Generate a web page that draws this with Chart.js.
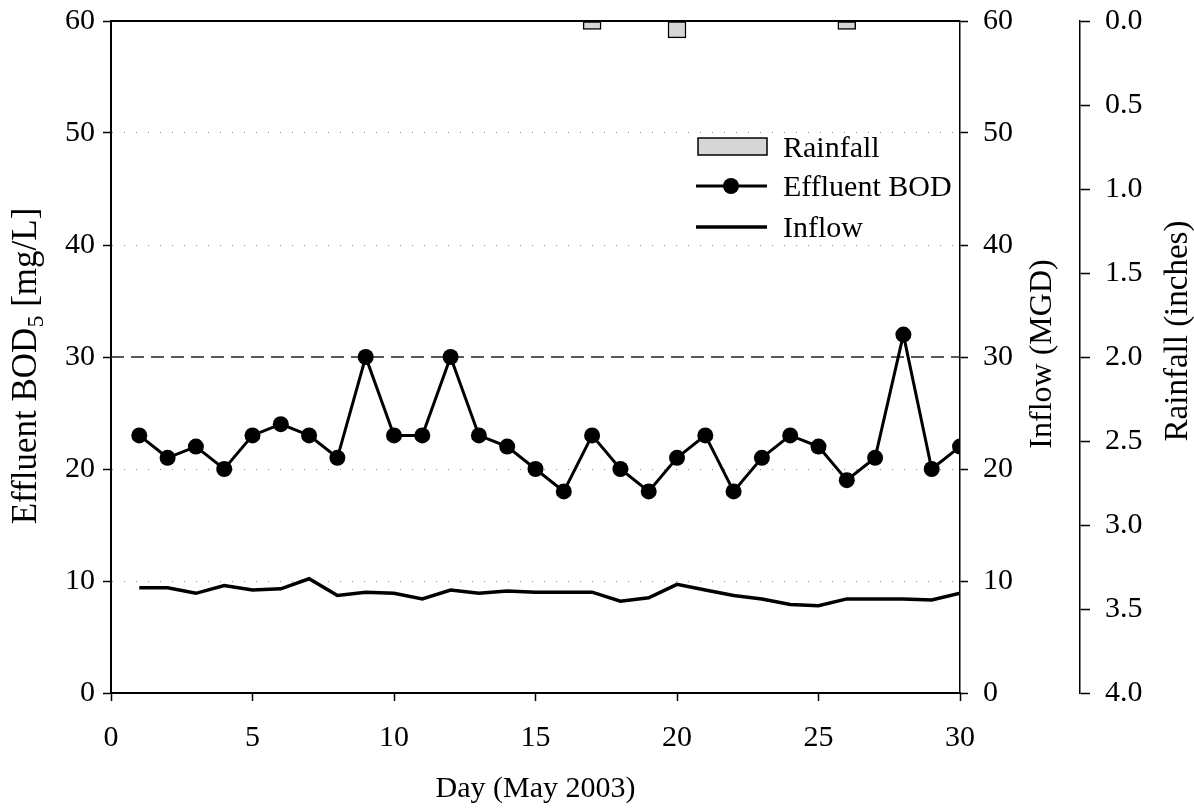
<!DOCTYPE html>
<html>
<head>
<meta charset="utf-8">
<script src="https://cdn.jsdelivr.net/npm/chart.js@4.4.1/dist/chart.umd.min.js"></script>
<style>
  html, body { margin: 0; background: #fff; }
</style>
</head>
<body>
<canvas id="chart" width="1194" height="810"></canvas>
<script>
// values
const days = [1,2,3,4,5,6,7,8,9,10,11,12,13,14,15,16,17,18,19,20,21,22,23,24,25,26,27,28,29,30];
const effluentBod = [23,21,22,20,23,24,23,21,30,23,23,30,23,22,20,18,23,20,18,21,23,18,21,23,22,19,21,32,20,22];
const inflow = [9.4,9.4,8.9,9.6,9.2,9.3,10.2,8.7,9.0,8.9,8.4,9.2,8.9,9.1,9.0,9.0,9.0,8.2,8.5,9.7,9.2,8.7,8.4,7.9,7.8,8.4,8.4,8.4,8.3,8.9];
const rainfall = [0,0,0,0,0,0,0,0,0,0,0,0,0,0,0,0,0.05,0,0,0.1,0,0,0,0,0,0.05,0,0,0,0];
const bodLimit = 30;
const dayTicks = [0,5,10,15,20,25,30];
const bodTicks = [0,10,20,30,40,50,60];
const rainTicks = [0,0.5,1,1.5,2,2.5,3,3.5,4];

const FONT = '"Liberation Serif", "Times New Roman", serif';
Chart.defaults.font.family = FONT;
Chart.defaults.font.size = 30;
Chart.defaults.color = '#000';

const pts = (ys) => days.map((d, i) => ({ x: d, y: ys[i] }));

// fixed axis sizes so the plot area lands where the original has it
const fixWidth = w => s => { s.width = w; s.paddingTop = 0; s.paddingBottom = 0; };

// axis titles, legend and top frame
const decor = {
  id: 'decor',
  afterDraw(chart) {
    const { ctx, chartArea: a } = chart;
    ctx.save();
    ctx.strokeStyle = '#000';
    ctx.lineWidth = 2;
    ctx.beginPath();
    ctx.moveTo(a.left, a.top);
    ctx.lineTo(a.right, a.top);
    ctx.stroke();

    ctx.fillStyle = '#000';
    ctx.textBaseline = 'alphabetic';
    ctx.font = '30px ' + FONT;
    ctx.textAlign = 'center';
    ctx.fillText('Day (May 2003)', (a.left + a.right) / 2, 797);

    const vtext = (parts, x, yc) => {
      ctx.save();
      ctx.translate(x, yc);
      ctx.rotate(-Math.PI / 2);
      ctx.textAlign = 'left';
      let total = 0;
      parts.forEach(p => { ctx.font = p.size + 'px ' + FONT; p.w = ctx.measureText(p.t).width; total += p.w; });
      let cx = -total / 2;
      parts.forEach(p => { ctx.font = p.size + 'px ' + FONT; ctx.fillText(p.t, cx, p.dy || 0); cx += p.w; });
      ctx.restore();
    };
    vtext([{ t: 'Effluent BOD', size: 35 }, { t: '5', size: 24, dy: 7 }, { t: ' [mg/L]', size: 35 }], 36, 366);
    vtext([{ t: 'Inflow (MGD)', size: 32 }], 1051, 354);
    vtext([{ t: 'Rainfall (inches)', size: 33 }], 1187, 331);

    // legend
    const ds = chart.data.datasets;
    ctx.textAlign = 'left';
    ctx.font = '30px ' + FONT;
    ctx.fillStyle = ds[0].backgroundColor;
    ctx.fillRect(698, 138, 69, 17);
    ctx.strokeStyle = '#000';
    ctx.lineWidth = 1.5;
    ctx.strokeRect(698, 138, 69, 17);
    ctx.fillStyle = '#000';
    ctx.fillText(ds[0].label, 783, 157);

    ctx.lineWidth = ds[1].borderWidth;
    ctx.beginPath(); ctx.moveTo(696, 186); ctx.lineTo(767, 186); ctx.stroke();
    ctx.beginPath(); ctx.arc(731, 186, ds[1].pointRadius, 0, Math.PI * 2); ctx.fill();
    ctx.fillText(ds[1].label, 783, 196);

    ctx.lineWidth = ds[2].borderWidth;
    ctx.beginPath(); ctx.moveTo(696, 227); ctx.lineTo(767, 227); ctx.stroke();
    ctx.fillText(ds[2].label, 783, 237);
    ctx.restore();
  }
};

new Chart(document.getElementById('chart'), {
  type: 'line',
  data: {
    datasets: [
      {
        type: 'bar',
        label: 'Rainfall',
        data: pts(rainfall),
        xAxisID: 'x',
        yAxisID: 'yRain',
        backgroundColor: '#d6d6d6',
        borderColor: '#000',
        borderWidth: 1.5,
        borderSkipped: false,
        barThickness: 18
      },
      {
        label: 'Effluent BOD',
        data: pts(effluentBod),
        yAxisID: 'y',
        borderColor: '#000',
        backgroundColor: '#000',
        borderWidth: 3,
        pointRadius: 8,
        pointBackgroundColor: '#000',
        pointBorderWidth: 0,
        tension: 0
      },
      {
        label: 'Inflow',
        data: pts(inflow),
        yAxisID: 'yFlow',
        borderColor: '#000',
        borderWidth: 3.5,
        pointRadius: 0,
        tension: 0
      },
      {
        label: 'limit',
        data: [{ x: dayTicks[0], y: bodLimit }, { x: dayTicks[dayTicks.length - 1], y: bodLimit }],
        yAxisID: 'y',
        borderColor: '#222',
        borderWidth: 1.5,
        borderDash: [13, 7],
        pointRadius: 0
      }
    ]
  },
  options: {
    responsive: false,
    animation: false,
    devicePixelRatio: 1,
    layout: { padding: { top: 21, left: 0, right: 0, bottom: 0 } },
    plugins: { legend: { display: false }, tooltip: { enabled: false } },
    scales: {
      x: {
        type: 'linear',
        position: 'bottom',
        min: dayTicks[0],
        max: dayTicks[dayTicks.length - 1],
        offset: false,
        afterBuildTicks: s => { s.ticks = dayTicks.map(v => ({ value: v })); },
        ticks: { padding: 19 },
        grid: { offset: false, drawOnChartArea: false, tickLength: 8, tickColor: '#000', tickWidth: 1.5 },
        border: { color: '#000', width: 2 },
        afterFit: s => { s.height = 117; s.paddingLeft = 0; s.paddingRight = 0; }
      },
      y: {
        position: 'left',
        min: bodTicks[0],
        max: bodTicks[bodTicks.length - 1],
        afterBuildTicks: s => { s.ticks = bodTicks.map(v => ({ value: v })); },
        ticks: { padding: 8 },
        grid: {
          color: c => (c.tick && [0, 30, 60].includes(c.tick.value)) ? 'rgba(0,0,0,0)' : 'rgba(0,0,0,0.45)',
          lineWidth: 1,
          tickLength: 8,
          tickColor: '#000',
          tickWidth: 1.5
        },
        border: { color: '#000', width: 2, dash: [1, 11] },
        afterFit: fixWidth(111)
      },
      yFlow: {
        position: 'right',
        weight: 0,
        min: bodTicks[0],
        max: bodTicks[bodTicks.length - 1],
        afterBuildTicks: s => { s.ticks = bodTicks.map(v => ({ value: v })); },
        ticks: { padding: 15 },
        grid: { drawOnChartArea: false, tickLength: 8, tickColor: '#000', tickWidth: 1.5 },
        border: { color: '#000', width: 1.5 },
        afterFit: fixWidth(120)
      },
      yRain: {
        position: 'right',
        weight: 1,
        reverse: true,
        min: rainTicks[0],
        max: rainTicks[rainTicks.length - 1],
        afterBuildTicks: s => { s.ticks = rainTicks.map(v => ({ value: v })); },
        ticks: { padding: 15, callback: v => Number(v).toFixed(1) },
        grid: { drawOnChartArea: false, tickLength: 10, tickColor: '#000', tickWidth: 1.5 },
        border: { color: '#000', width: 1.5 },
        afterFit: fixWidth(114)
      }
    }
  },
  plugins: [decor]
});
</script>
</body>
</html>
